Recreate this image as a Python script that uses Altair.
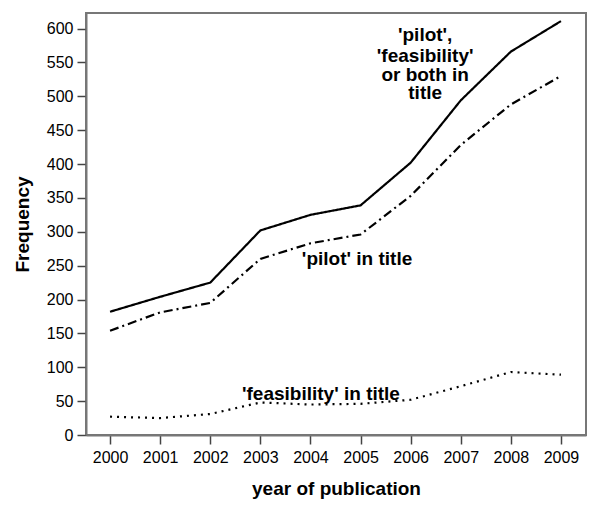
import altair as alt
import pandas as pd

years = [2000, 2001, 2002, 2003, 2004, 2005, 2006, 2007, 2008, 2009]
both = [182, 204, 225, 302, 325, 339, 402, 494, 566, 611]
pilot = [154, 181, 195, 260, 283, 296, 353, 428, 488, 530]
feas = [27, 25, 31, 48, 45, 46, 52, 72, 93, 89]
y_ticks = [0, 50, 100, 150, 200, 250, 300, 350, 400, 450, 500, 550, 600]

series_names = ["both", "pilot", "feas"]
series_vals = [both, pilot, feas]
dashes = {"both": [1, 0], "pilot": [9, 4, 2, 4], "feas": [2, 5]}

rows = []
for name, vals in zip(series_names, series_vals):
    for yr, v in zip(years, vals):
        rows.append({"year": yr, "value": v, "series": name})
df = pd.DataFrame(rows)

label_text = ["'pilot',", "'feasibility'", "or both in", "title", "'pilot' in title", "'feasibility' in title"]
label_x = [2006.29, 2006.29, 2006.29, 2006.29, 2004.93, 2004.21]
label_y = [581, 551, 523, 496.5, 251, 51]
labels = pd.DataFrame({"text": label_text, "x": label_x, "y": label_y})

xscale = alt.Scale(domain=[1999.52, 2009.5], nice=False, zero=False)
yscale = alt.Scale(domain=[0, 623], nice=False)

xaxis = alt.Axis(values=years, format="d", title="year of publication", labelOverlap=False)
yaxis = alt.Axis(values=y_ticks, title="Frequency", labelOverlap=False, tickCount=13)

lines = []
for name in series_names:
    lines.append(
        alt.Chart(df[df.series == name])
        .mark_line(color="black", strokeWidth=2.2, strokeDash=dashes[name])
        .encode(
            x=alt.X("year:Q", scale=xscale, axis=xaxis),
            y=alt.Y("value:Q", scale=yscale, axis=yaxis),
        )
    )

text = alt.Chart(labels).mark_text(
    font="Liberation Sans", fontSize=19, fontWeight="bold", color="black",
    align="center", baseline="alphabetic"
).encode(
    x=alt.X("x:Q", scale=xscale, axis=xaxis),
    y=alt.Y("y:Q", scale=yscale, axis=yaxis),
    text="text:N",
)

chart = alt.layer(*lines, text).properties(
    width=500, height=422,
    autosize=alt.AutoSizeParams(type="none"),
    padding={"left": 78, "top": 5, "right": 6, "bottom": 75},
).configure_view(
    stroke="#777777", strokeWidth=2
).configure_axis(
    grid=False,
    domainColor="#777777", domainWidth=2,
    tickColor="#444444", tickSize=9, tickWidth=1.5,
    labelFont="Liberation Sans", labelFontSize=16, labelColor="black",
    titleFont="Liberation Sans", titleFontSize=19, titleFontWeight="bold", titleColor="black",
).configure_axisX(
    labelPadding=5, titlePadding=14
).configure_axisY(
    labelPadding=4, titlePadding=14
)

chart.save("out.html", embed_options={"renderer": "svg", "actions": False})
